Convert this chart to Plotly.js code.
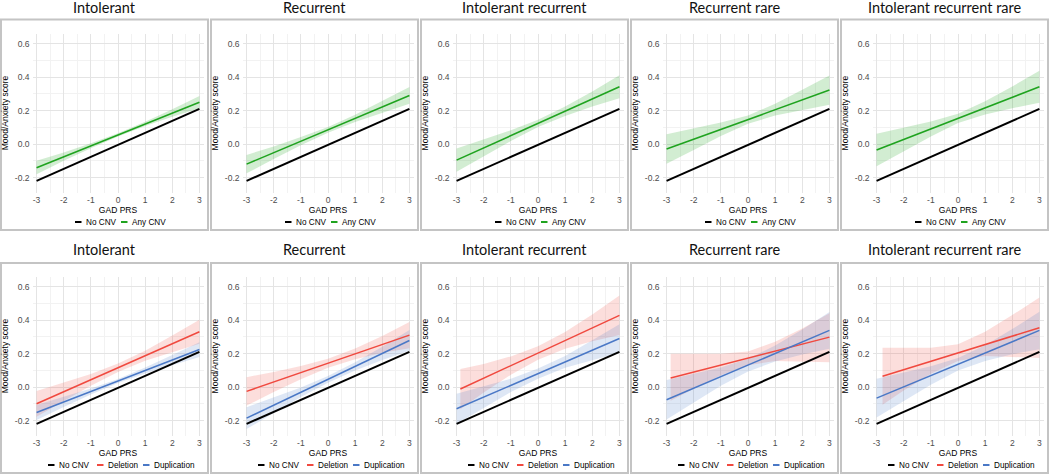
<!DOCTYPE html>
<html>
<head>
<meta charset="utf-8">
<script src="https://cdn.plot.ly/plotly-3.0.1.min.js"></script>
<style>
html,body{margin:0;padding:0;background:#fff;}
#chart{width:1050px;height:475px;}
</style>
</head>
<body>
<div id="chart"></div>
<script>
// ---------- data ----------
const panelTitles = ["Intolerant", "Recurrent", "Intolerant recurrent", "Recurrent rare", "Intolerant recurrent rare"];
const xTickVals = [-3, -2, -1, 0, 1, 2, 3];
const yTickVals = [-0.2, 0, 0.2, 0.4, 0.6];
const xAxisTitle = "GAD PRS";
const yAxisTitle = "Mood/Anxiety score";

// reference line, identical in all panels
const noCnvX = [-3, 3];
const noCnvY = [-0.22, 0.21];

// band sample positions
const bandX = [-3, -2, -1, 0, 1, 2, 3];

// top row: Any CNV (line ends, band upper/lower at bandX)
const anyLineY = [
  [-0.141, 0.249],
  [-0.120, 0.290],
  [-0.096, 0.342],
  [-0.030, 0.322],
  [-0.036, 0.342]
];
const anyUpper = [
  [-0.100, -0.050, 0.005, 0.065, 0.133, 0.207, 0.287],
  [-0.065, -0.014, 0.042, 0.102, 0.175, 0.257, 0.340],
  [-0.026, 0.027, 0.082, 0.145, 0.224, 0.314, 0.410],
  [0.058, 0.094, 0.128, 0.171, 0.240, 0.324, 0.409],
  [0.061, 0.097, 0.135, 0.181, 0.256, 0.344, 0.437]
];
const anyLower = [
  [-0.180, -0.100, -0.025, 0.045, 0.108, 0.163, 0.213],
  [-0.175, -0.090, -0.008, 0.068, 0.131, 0.187, 0.240],
  [-0.166, -0.073, 0.018, 0.101, 0.168, 0.224, 0.274],
  [-0.118, -0.036, 0.048, 0.121, 0.170, 0.204, 0.235],
  [-0.133, -0.043, 0.045, 0.125, 0.176, 0.214, 0.247]
];

// bottom row: Deletion (starting x differs in some panels)
const delStartX = [-3, -3, -2.86, -2.85, -2.78];
const delLineY = [
  [-0.100, 0.330],
  [-0.026, 0.310],
  [-0.012, 0.428],
  [0.054, 0.298],
  [0.064, 0.354]
];
const delUpper = [
  [-0.023, 0.027, 0.078, 0.140, 0.217, 0.308, 0.402],
  [0.059, 0.090, 0.126, 0.169, 0.230, 0.304, 0.388],
  [0.108, 0.138, 0.183, 0.243, 0.328, 0.433, 0.546],
  [0.198, 0.198, 0.198, 0.212, 0.270, 0.350, 0.440],
  [0.234, 0.234, 0.234, 0.255, 0.330, 0.430, 0.534]
];
const delLower = [
  [-0.177, -0.083, 0.008, 0.090, 0.157, 0.208, 0.258],
  [-0.111, -0.030, 0.046, 0.115, 0.166, 0.204, 0.232],
  [-0.132, -0.032, 0.073, 0.163, 0.228, 0.273, 0.310],
  [-0.082, -0.010, 0.070, 0.130, 0.155, 0.150, 0.148],
  [-0.106, -0.020, 0.080, 0.155, 0.185, 0.180, 0.174]
];

// bottom row: Duplication
const dupLineY = [
  [-0.152, 0.224],
  [-0.186, 0.278],
  [-0.130, 0.290],
  [-0.076, 0.338],
  [-0.066, 0.338]
];
const dupUpper = [
  [-0.107, -0.059, -0.009, 0.048, 0.117, 0.191, 0.268],
  [-0.121, -0.064, -0.003, 0.066, 0.148, 0.241, 0.340],
  [-0.040, 0.005, 0.050, 0.110, 0.185, 0.280, 0.375],
  [0.042, 0.078, 0.117, 0.169, 0.248, 0.344, 0.448],
  [0.050, 0.086, 0.124, 0.173, 0.250, 0.346, 0.450]
];
const dupLower = [
  [-0.197, -0.119, -0.045, 0.024, 0.081, 0.131, 0.180],
  [-0.251, -0.154, -0.059, 0.026, 0.098, 0.161, 0.216],
  [-0.220, -0.125, -0.030, 0.050, 0.115, 0.160, 0.205],
  [-0.194, -0.092, 0.007, 0.093, 0.152, 0.194, 0.228],
  [-0.182, -0.084, 0.014, 0.099, 0.156, 0.196, 0.226]
];

const legendTop = ["No CNV", "Any CNV"];
const legendBottom = ["No CNV", "Deletion", "Duplication"];

// ---------- styling ----------
const W = 1050, H = 475;
const C_BLACK = "#000000";
const C_GREEN = "#1fa31f";
const C_RED = "#f0493f";
const C_BLUE = "#4a78c6";
const F_GREEN = "rgba(31,163,31,0.20)";
const F_RED = "rgba(240,73,63,0.18)";
const F_BLUE = "rgba(74,120,198,0.18)";
const FONT = "Liberation Sans, Arial, sans-serif";

// legend key / text offsets (px from panel left)
const topKeyPos = [75, 121], topTextPos = [84, 130];
const botKeyPos = [48, 97, 143], botTextPos = [57, 106, 152];

const px = v => v / W;
const py = v => 1 - v / H;

const traces = [];
const layout = {
  width: W, height: H,
  margin: {l: 0, r: 0, t: 0, b: 0},
  paper_bgcolor: "#ffffff",
  plot_bgcolor: "#ffffff",
  showlegend: false,
  annotations: [],
  shapes: []
};

function band(x, up, lo, fill, xa, ya) {
  const xs = x.concat(x.slice().reverse());
  const ys = up.concat(lo.slice().reverse());
  return {x: xs, y: ys, xaxis: xa, yaxis: ya, type: "scatter", mode: "lines",
          fill: "toself", fillcolor: fill, line: {width: 0}, hoverinfo: "skip"};
}
function line(x, y, color, w, name, xa, ya) {
  return {x: x, y: y, xaxis: xa, yaxis: ya, type: "scatter", mode: "lines",
          line: {color: color, width: w}, name: name};
}
function legendItem(L, keyX, textX, yPx, color, label) {
  layout.shapes.push({
    type: "line", xref: "paper", yref: "paper",
    x0: px(L + keyX), x1: px(L + keyX + 6.5), y0: py(yPx), y1: py(yPx),
    line: {color: color, width: 2}
  });
  layout.annotations.push({
    xref: "paper", yref: "paper", x: px(L + textX), y: py(yPx),
    xanchor: "left", yanchor: "middle", showarrow: false,
    text: label, font: {family: FONT, size: 8.2, color: "#000"}
  });
}

for (let row = 0; row < 2; row++) {
  for (let c = 0; c < 5; c++) {
    const k = row * 5 + c + 1;
    const xa = "x" + k, ya = "y" + k;
    const L = 210 * c;
    const off = row * 243;
    const plotL = L + 32.5, plotR = L + 203.5;
    const plotT = 33.5 + off, plotB = 192.6 + off;

    layout["xaxis" + k] = {
      domain: [px(plotL), px(plotR)],
      anchor: ya,
      range: [-3.15, 3.15],
      tickvals: xTickVals,
      ticktext: xTickVals.map(String),
      showgrid: true, gridcolor: "#e4e4e4", gridwidth: 1,
      minor: {dtick: 0.5, tick0: 0, showgrid: true, gridcolor: "#f2f2f2", gridwidth: 1},
      zeroline: false, showline: false, ticks: "",
      ticklabelstandoff: 1,
      tickfont: {family: FONT, size: 8.5, color: "#4d4d4d"},
      title: {text: xAxisTitle, font: {family: FONT, size: 8.5, color: "#000"}, standoff: 1},
      fixedrange: true
    };
    layout["yaxis" + k] = {
      domain: [py(plotB), py(plotT)],
      anchor: xa,
      range: [-0.29, 0.66],
      tickvals: yTickVals,
      ticktext: yTickVals.map(v => v.toFixed(1)),
      showgrid: true, gridcolor: "#e4e4e4", gridwidth: 1,
      minor: {dtick: 0.1, tick0: 0, showgrid: true, gridcolor: "#f2f2f2", gridwidth: 1},
      zeroline: false, showline: false, ticks: "",
      ticklabelstandoff: 2,
      tickfont: {family: FONT, size: 8.5, color: "#4d4d4d"},
      title: {text: yAxisTitle, font: {family: FONT, size: 8.5, color: "#000"}, standoff: 4},
      fixedrange: true
    };

    // panel border
    layout.shapes.push({
      type: "rect", xref: "paper", yref: "paper",
      x0: px(L + 1), x1: px(L + 208),
      y0: py(row === 0 ? 230 : 473), y1: py(row === 0 ? 19.5 : 263),
      line: {color: "#c4c4c4", width: 2}, fillcolor: "rgba(0,0,0,0)", layer: "below"
    });

    // panel title
    layout.annotations.push({
      xref: "paper", yref: "paper", x: px(L + 104.5), y: py(row === 0 ? 7.5 : 249.5),
      xanchor: "center", yanchor: "middle", showarrow: false,
      text: panelTitles[c], font: {family: "Lato, sans-serif", size: 14.5, color: "#111", weight: 400}
    });

    if (row === 0) {
      traces.push(band(bandX, anyUpper[c], anyLower[c], F_GREEN, xa, ya));
      traces.push(line(noCnvX, noCnvY, C_BLACK, 2, legendTop[0], xa, ya));
      traces.push(line(noCnvX, anyLineY[c], C_GREEN, 1.6, legendTop[1], xa, ya));
      legendItem(L, topKeyPos[0], topTextPos[0], 222, C_BLACK, legendTop[0]);
      legendItem(L, topKeyPos[1], topTextPos[1], 222, C_GREEN, legendTop[1]);
    } else {
      const dx = bandX.slice(); dx[0] = delStartX[c];
      traces.push(band(dx, delUpper[c], delLower[c], F_RED, xa, ya));
      traces.push(band(bandX, dupUpper[c], dupLower[c], F_BLUE, xa, ya));
      traces.push(line(noCnvX, noCnvY, C_BLACK, 2, legendBottom[0], xa, ya));
      traces.push(line([delStartX[c], 3], delLineY[c], C_RED, 1.5, legendBottom[1], xa, ya));
      traces.push(line(noCnvX, dupLineY[c], C_BLUE, 1.5, legendBottom[2], xa, ya));
      legendItem(L, botKeyPos[0], botTextPos[0], 465, C_BLACK, legendBottom[0]);
      legendItem(L, botKeyPos[1], botTextPos[1], 465, C_RED, legendBottom[1]);
      legendItem(L, botKeyPos[2], botTextPos[2], 465, C_BLUE, legendBottom[2]);
    }
  }
}

Plotly.newPlot("chart", traces, layout, {displayModeBar: false, staticPlot: true});
</script>
</body>
</html>
